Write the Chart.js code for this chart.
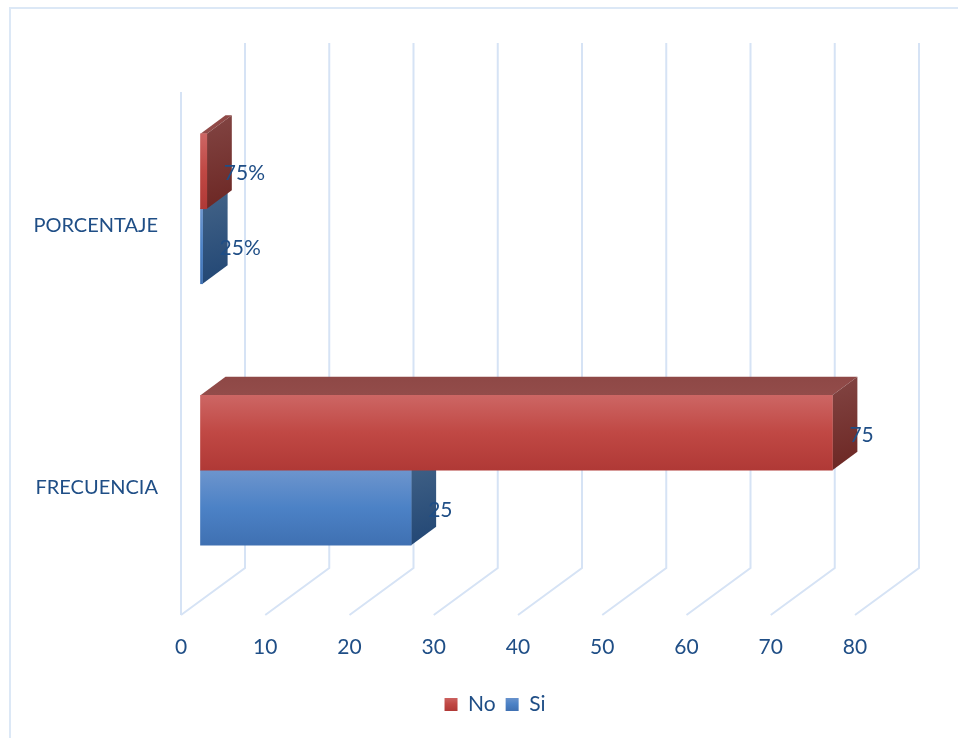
<!DOCTYPE html>
<html>
<head>
<meta charset="utf-8">
<title>Frecuencia y porcentaje</title>
<script src="https://cdn.jsdelivr.net/npm/chart.js@4"></script>
<style>
  html, body { margin: 0; background: #fff; overflow: hidden; }
  #frame { position: absolute; left: 9px; top: 7px; right: 0; bottom: 0; border-left: 2px solid #dce8f6; border-top: 2px solid #dce8f6; }
  #myChart { position: absolute; left: 0; top: 0; filter: blur(0.5px); }
</style>
</head>
<body>
<div id="frame"></div>
<canvas id="myChart" width="958" height="738"></canvas>
<script>
const categories = ["PORCENTAJE", "FRECUENCIA"];
const noValues = [0.75, 75];
const siValues = [0.25, 25];
const noLabels = ["75%", "75"];
const siLabels = ["25%", "25"];
const xTicks = [0, 10, 20, 30, 40, 50, 60, 70, 80];

const textColor = "#1f4e86";
const gridColor = "#d6e3f5";
const fontSize = 21;
const barHeight = 75;
// how far the bars sit inside the fake 3d box
const barShiftX = 19.5;
const barShiftY = -14;
const barDepthX = 25;
const barDepthY = -18.5;
const floorDepthX = 64;
const floorDepthY = -47;
const wallTop = 43;
// legend is centred on 494, not on the plot
const legendLeft = 135;

const colors = [
  { front: ["#cd6664", "#c04844", "#b03936"], top: ["#8e4846", "#934c4a"], side: ["#824543", "#6c2623"] },
  { front: ["#6d95cd", "#4c82c6", "#3f70b2"], top: ["#4a6d9a", "#55779f"], side: ["#446488", "#214674"] }
];

function frontGradient(ctx, di, top, bottom) {
  const g = ctx.createLinearGradient(0, top, 0, bottom);
  g.addColorStop(0, colors[di].front[0]);
  g.addColorStop(0.5, colors[di].front[1]);
  g.addColorStop(1, colors[di].front[2]);
  return g;
}

function frontFill(c, di) {
  const mid = c.chart.scales.y.getPixelForValue(c.dataIndex);
  // scale has no size yet on the first reset pass
  if (!isFinite(mid)) return colors[di].front[1];
  const top = di === 0 ? mid - barHeight : mid;
  return frontGradient(c.chart.ctx, di, top, top + barHeight);
}

function poly(ctx, pts, fill) {
  ctx.beginPath();
  pts.forEach((p, i) => (i ? ctx.lineTo(p[0], p[1]) : ctx.moveTo(p[0], p[1])));
  ctx.closePath();
  ctx.fillStyle = fill;
  ctx.fill();
}

const box3d = {
  id: "box3d",
  afterLayout(chart) {
    chart.legend.left = legendLeft;
  },
  beforeDatasetsDraw(chart) {
    const ctx = chart.ctx;
    const x = chart.scales.x;
    const area = chart.chartArea;
    ctx.save();
    ctx.strokeStyle = gridColor;
    ctx.lineWidth = 2;
    ctx.beginPath();
    ctx.moveTo(area.left, area.top);
    ctx.lineTo(area.left, area.bottom);
    xTicks.forEach(v => {
      const px = x.getPixelForValue(v);
      ctx.moveTo(px, area.bottom);
      ctx.lineTo(px + floorDepthX, area.bottom + floorDepthY);
      ctx.lineTo(px + floorDepthX, wallTop);
    });
    ctx.stroke();
    ctx.restore();
  },
  beforeDatasetDraw(chart, args) {
    const ctx = chart.ctx;
    const col = colors[args.index];
    ctx.save();
    ctx.translate(barShiftX, barShiftY);
    args.meta.data.forEach(bar => {
      const r = bar.x;
      const l = bar.base;
      const t = bar.y - barHeight / 2;
      const b = bar.y + barHeight / 2;
      let g = ctx.createLinearGradient(l, t + barDepthY, l, t);
      g.addColorStop(0, col.top[0]);
      g.addColorStop(1, col.top[1]);
      poly(ctx, [[l, t], [l + barDepthX, t + barDepthY], [r + barDepthX, t + barDepthY], [r, t]], g);
      g = ctx.createLinearGradient(r, t + barDepthY, r + barDepthX, b);
      g.addColorStop(0, col.side[0]);
      g.addColorStop(1, col.side[1]);
      poly(ctx, [[r, t], [r + barDepthX, t + barDepthY], [r + barDepthX, b + barDepthY], [r, b]], g);
    });
  },
  afterDatasetDraw(chart) {
    chart.ctx.restore();
  },
  afterDatasetsDraw(chart) {
    const ctx = chart.ctx;
    ctx.save();
    ctx.font = fontSize + "px Lato";
    ctx.fillStyle = textColor;
    ctx.textAlign = "left";
    ctx.textBaseline = "middle";
    [noLabels, siLabels].forEach((labels, di) => {
      chart.getDatasetMeta(di).data.forEach((bar, i) => {
        ctx.fillText(labels[i], bar.x + barShiftX + 17, bar.y + barShiftY + 2);
      });
    });
    ctx.restore();
  }
};

new Chart(document.getElementById("myChart"), {
  type: "bar",
  plugins: [box3d],
  data: {
    labels: categories,
    datasets: [
      { label: "No", data: noValues, barThickness: barHeight, clip: false, backgroundColor: c => frontFill(c, 0) },
      { label: "Si", data: siValues, barThickness: barHeight, clip: false, backgroundColor: c => frontFill(c, 1) }
    ]
  },
  options: {
    indexAxis: "y",
    responsive: false,
    animation: false,
    layout: { padding: { right: 103, top: 92, bottom: 13 } },
    scales: {
      x: {
        min: 0,
        max: 80,
        afterFit: s => { s.height = 69; },
        afterBuildTicks: s => { s.ticks = xTicks.map(v => ({ value: v })); },
        grid: { display: false },
        border: { display: false },
        ticks: { color: textColor, font: { family: "Lato", size: fontSize }, padding: 12, maxRotation: 0, autoSkip: false }
      },
      y: {
        afterFit: s => { s.width = 181; },
        grid: { display: false },
        border: { display: false },
        ticks: { color: textColor, font: { family: "Lato", size: 20 }, padding: 15, labelOffset: 3 }
      }
    },
    plugins: {
      tooltip: { enabled: false },
      legend: {
        position: "bottom",
        labels: {
          color: textColor,
          font: { family: "Lato", size: fontSize },
          boxWidth: 13,
          boxHeight: 13,
          padding: 10,
          generateLabels(chart) {
            const items = Chart.defaults.plugins.legend.labels.generateLabels(chart);
            items.forEach((item, i) => { item.fillStyle = frontGradient(chart.ctx, i, 697, 711); });
            return items;
          }
        }
      }
    }
  }
});
</script>
</body>
</html>
